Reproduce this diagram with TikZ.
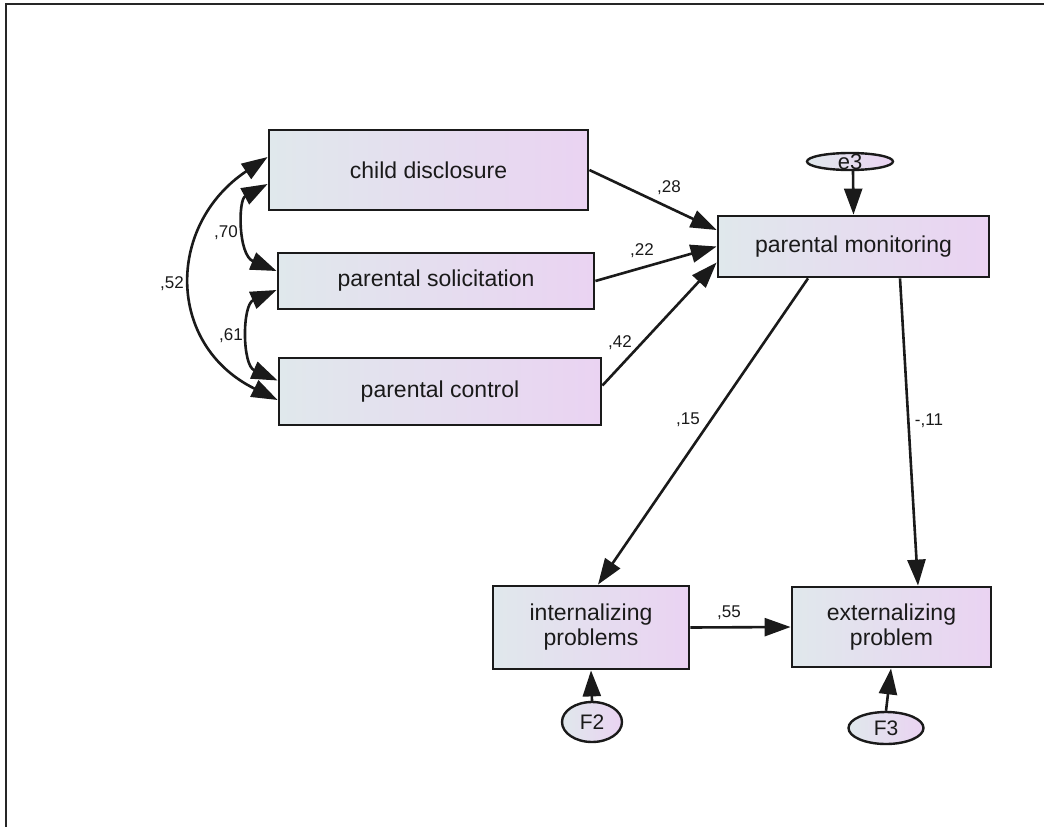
\documentclass[tikz,border=0pt]{standalone}
\usepackage{fontspec}
\setmainfont{Liberation Sans}
\usetikzlibrary{arrows.meta,shapes.geometric}
\definecolor{boxL}{HTML}{E0E8EC}
\definecolor{boxR}{HTML}{EAD3F2}
\definecolor{ink}{HTML}{1A1A1A}
\begin{document}
\begin{tikzpicture}[x=1pt,y=-1pt,
  var/.style={rectangle, draw=ink, line width=2.8pt, left color=boxL, right color=boxR,
    inner sep=0pt, font=\fontsize{23}{25}\selectfont, text=ink, align=center},
  err/.style={ellipse, draw=ink, line width=2.4pt, left color=boxL, right color=boxR,
    inner sep=0pt, font=\fontsize{21}{23}\selectfont, text=ink},
  errtxt/.style={inner sep=0pt, font=\fontsize{22}{23}\selectfont, text=ink},
  arr/.style={line width=2.6pt, draw=ink, -{Triangle[length=26pt,width=18pt]}},
  cov/.style={line width=2.6pt, draw=ink, {Triangle[length=26pt,width=18pt]}-{Triangle[length=26pt,width=18pt]}},
  lbl/.style={font=\fontsize{17}{19}\selectfont, text=ink, inner sep=0pt}
]
\useasboundingbox (0,0) rectangle (1044,827);
\fill[white] (0,0) rectangle (1044,827);
% frame
\draw[line width=2pt, black!85] (5.5,830) -- (5.5,4) -- (1050,4);

% variables
\node[var, minimum width=319pt, minimum height=80pt] (cd) at (428.5,170) {child disclosure};
\node[var, minimum width=316pt, minimum height=56pt] (ps) at (436,281) {parental solicitation};
\node[var, minimum width=322pt, minimum height=67pt] (pc) at (440,391.5) {parental control};
\node[var, minimum width=271pt, minimum height=61pt] (pm) at (853.5,246.5) {parental monitoring};
\node[var, minimum width=196pt, minimum height=83pt] (ip) at (591,627.5) {internalizing\\problems};
\node[var, minimum width=199pt, minimum height=80pt] (ep) at (891.5,627) {externalizing\\problem};

% error terms
\node[err, minimum width=86pt, minimum height=17pt, label={[errtxt]center:e3}] (e3) at (850,161.5) {};
\node[err, minimum width=60pt, minimum height=40pt] (F2) at (592,722) {F2};
\node[err, minimum width=75pt, minimum height=32pt] (F3) at (886,728) {F3};

% regression paths
\draw[arr] (cd.east) -- ([yshift=16.5pt]pm.west);
\draw[arr] (ps.east) -- (pm.west);
\draw[arr] ([yshift=6pt]pc.east) -- ([yshift=-16pt]pm.west);
\draw[arr] ([xshift=-45.5pt]pm.south) -- ([xshift=7pt]ip.north);
\draw[arr] ([xshift=46.5pt]pm.south) -- ([xshift=26.5pt]ep.north);
\draw[arr] (ip.east) -- (ep.west);
\draw[arr] ([xshift=3pt]e3.south) -- (pm.north);
\draw[arr] (F2.north) -- (ip.south);
\draw[arr] (F3.north) -- ([xshift=-0.5pt]ep.south);

% covariances
\draw[cov] ([yshift=13pt]cd.west) .. controls (166,225) and (166,345) .. ([yshift=-8.5pt]pc.west);
\draw[cov] ([yshift=-14pt]cd.west) .. controls (238,200) and (238,255) .. ([yshift=10pt]ps.west);
\draw[cov] ([yshift=-9pt]ps.west) .. controls (242,305) and (242,365) .. ([yshift=11pt]pc.west);

% labels
\node[lbl] (l52) at (172,284) {,52};
\node[lbl] (l70) at (226,233) {,70};
\node[lbl] (l61) at (231,336) {,61};
\node[lbl] (l28) at (669,188) {,28};
\node[lbl] (l22) at (642,251) {,22};
\node[lbl] (l42) at (620,343) {,42};
\node[lbl] (l15) at (688,420) {,15};
\node[lbl] (l11) at (929,421) {-,11};
\node[lbl] (l55) at (729,613) {,55};
\end{tikzpicture}
\end{document}
